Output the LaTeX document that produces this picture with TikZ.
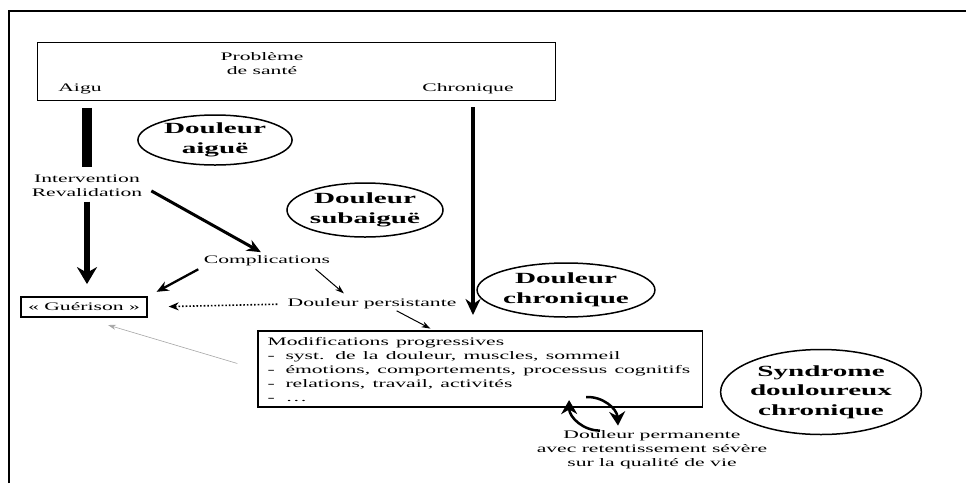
\documentclass[tikz,border=0pt]{standalone}
\usepackage{fontspec}
\setmainfont{Liberation Serif}
\usetikzlibrary{shapes.geometric,arrows.meta}
\pgfdeclarelayer{background}
\pgfsetlayers{background,main}

\tikzset{
  lbl/.style={inner sep=0pt, xscale=1.88, font=\fontsize{11.5}{14}\selectfont},
  oval/.style={draw, ellipse, line width=1.5pt, inner sep=0pt, xscale=1.88, align=center,
    font=\bfseries\fontsize{15.5}{19.5}\selectfont},
  bar/.style={line width=10pt},
  bigarrow/.style={line width=6pt, -{Stealth[length=17pt,width=20pt]}},
  midarrow/.style={line width=3pt, -{Stealth[length=14pt,width=12pt]}},
  smallarrow/.style={line width=2.3pt, -{Stealth[length=12pt,width=10pt]}},
  thinarrow/.style={line width=1pt, -{Stealth[length=9pt,width=6pt]}},
  chronarrow/.style={line width=4pt, -{Stealth[length=16pt,width=15pt]}},
  curvy/.style={line width=2.5pt, -{Stealth[length=14pt,width=16pt]}}
}

\begin{document}
\begin{tikzpicture}[x=1pt,y=-1pt]
\useasboundingbox (0,0) rectangle (966,483);
\begin{pgfonlayer}{background}
\draw[line width=2pt] (9,483) -- (9,11) -- (966,11);
\end{pgfonlayer}

% probleme de sante
\node[draw, line width=1.2pt, minimum width=518pt, minimum height=58pt, inner sep=0pt, anchor=north west] (prob) at (37,42) {};
\node[lbl, align=center] (sante) at (262,64) {Problème\\de santé};
\node[lbl] (aigu) at (80,89) {Aigu};
\node[lbl] (chron) at (468,89) {Chronique};

\node[lbl, align=center] (interv) at (87,186) {Intervention\\Revalidation};
\node[lbl] (compl) at (267,261) {Complications};
\node[lbl, draw, line width=1.8pt, minimum height=20pt, inner xsep=3.8pt] (guer) at (84,307) {« Guérison »};
\node[lbl] (pers) at (372,304) {Douleur persistante};
\node[lbl, draw, line width=1.8pt, anchor=north west, text width=226pt, align=left, inner xsep=5.3pt, inner ysep=6pt] (modif) at (256,330)
  {Modifications progressives\\
   \makebox[9.5pt][l]{-}syst. de la douleur, muscles, sommeil\\
   \makebox[9.5pt][l]{-}émotions, comportements, processus cognitifs\\
   \makebox[9.5pt][l]{-}relations, travail, activités\\
   \makebox[9.5pt][l]{-}\ldots};
\node[lbl, align=center] (perm) at (652,450) {Douleur permanente\\avec retentissement sévère\\sur la qualité de vie};

% ellipses
\node[oval, minimum width=82pt, minimum height=50pt] (aigue) at (215,140) {Douleur\\aiguë};
\node[oval, minimum width=83pt, minimum height=54pt] (subaigue) at (365,210) {Douleur\\subaiguë};
\node[oval, minimum width=86.7pt, minimum height=54pt] (chronique) at (566,290) {Douleur\\chronique};
\node[oval, minimum width=105.3pt, minimum height=85pt] (syndrome) at (821,392) {Syndrome\\douloureux\\chronique};

% connecteurs
\draw[bar, shorten <=13.5pt, shorten >=7.5pt] (aigu.south -| interv) -- (interv.north);
\draw[bigarrow, shorten <=4.5pt, shorten >=12pt] (interv.south) -- (interv.south |- guer.north);
\draw[midarrow, shorten <=10pt, shorten >=7pt] (interv.east) -- (compl.north);
\draw[smallarrow, shorten <=6pt, shorten >=9pt] (compl.south west) -- (guer.north east);
\draw[thinarrow, shorten <=4pt, shorten >=8pt] ([xshift=-18pt]compl.south east) -- ([xshift=-22pt]pers.north);
\draw[line width=1.6pt, dotted, -{Stealth[length=10pt,width=8pt]}, shorten <=10pt, shorten >=20pt] (pers.west) -- (guer.east);
\draw[thinarrow, shorten <=3pt, shorten >=3pt] ([xshift=22pt]pers.south) -- ([xshift=-47pt]modif.north);
\draw[chronarrow, shorten <=13pt, shorten >=15pt] ([xshift=5pt]chron.south) -- ([xshift=5pt]chron.south |- modif.north);
\draw[gray!70, line width=0.6pt, -{Stealth[length=8pt,width=5pt]}, shorten <=19.5pt, shorten >=25pt] (modif.west) -- (guer.south);
\draw[curvy] ([xshift=-52pt]perm.north) to[bend left=45] ([xshift=89pt,yshift=8pt]modif.south);
\draw[curvy] ([xshift=106pt,yshift=11pt]modif.south) to[bend left=45] ([xshift=-34pt,yshift=5pt]perm.north);
\end{tikzpicture}
\end{document}
